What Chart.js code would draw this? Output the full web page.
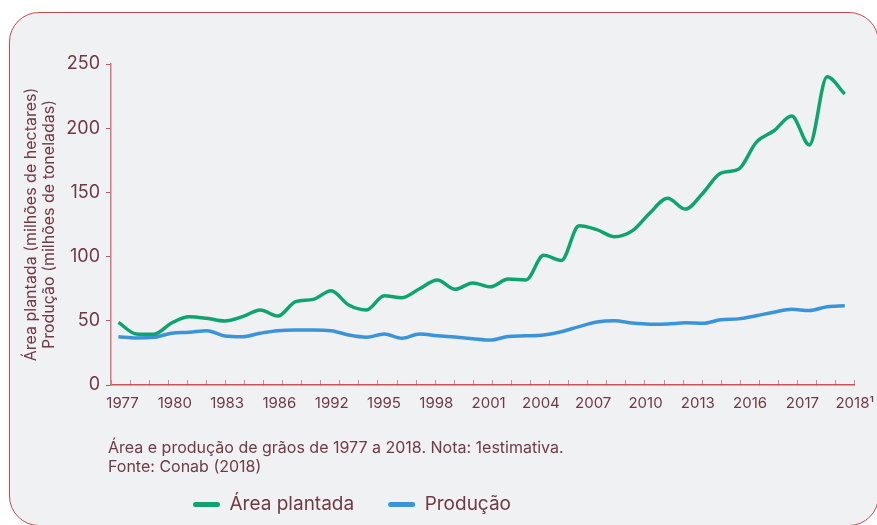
<!DOCTYPE html>
<html lang="pt">
<head>
<meta charset="utf-8">
<title>Área e produção de grãos</title>
<script src="https://cdn.jsdelivr.net/npm/chart.js@4.4.1/dist/chart.umd.min.js"></script>
<style>
    html, body { margin: 0; padding: 0; background: #ffffff; }
    body { width: 877px; height: 525px; position: relative; overflow: hidden; font-family: Inter, "Noto Sans", sans-serif; }
    .card {
        position: absolute; left: 9px; top: 12px; width: 870px; height: 514px;
        box-sizing: border-box; border: 1.5px solid #c24a52; border-radius: 30px;
        background: #f0f1f3;
    }
    #chart { position: absolute; left: 0; top: 0; }
    .caption {
        position: absolute; left: 108px; top: 438px;
        font-size: 16px; line-height: 19px; color: #6f3a46;
    }
</style>
</head>
<body>
<div class="card"></div>
<canvas id="chart" width="877" height="524"></canvas>
<div class="caption">Área e produção de grãos de 1977 a 2018. Nota: 1estimativa.<br>Fonte: Conab (2018)</div>

<script>
// Valores (milhões de ha / milhões de t)
const years = [1977, 1978, 1979, 1980, 1981, 1982, 1983, 1984, 1985, 1986, 1987, 1988, 1989, 1990,
    1991, 1992, 1993, 1994, 1995, 1996, 1997, 1998, 1999, 2000, 2001, 2002, 2003, 2004,
    2005, 2006, 2007, 2008, 2009, 2010, 2011, 2012, 2013, 2014, 2015, 2016, 2017, 2018];

const areaPlantada = [48.8, 39.8, 39.5, 48.3, 53.2, 51.9, 49.8, 53.2, 58.4, 53.7, 64.9, 66.7, 73.4, 62.3,
    58.5, 69.5, 68, 75, 81.8, 74.5, 79.5, 76.5, 82.5, 81.8, 101, 97, 124, 121,
    115.5, 120, 134, 145.4, 137, 149.6, 165, 168, 189, 198, 209.5, 187, 240, 226.6];

const producao = [37.6, 36.6, 37.1, 40.3, 41, 42.3, 38.2, 37.6, 40.3, 42.3, 42.8, 42.8, 42.3, 38.9,
    37.2, 39.7, 36.4, 39.7, 38.3, 37.3, 36.1, 35, 37.8, 38.3, 39, 41.5, 45.5, 49,
    50, 48.2, 47.3, 47.5, 48.4, 48, 50.8, 51.5, 54, 56.7, 59, 58, 61, 61.8];

const xTickLabels = ['1977', '1980', '1983', '1986', '1992', '1995', '1998', '2001', '2004',
    '2007', '2010', '2013', '2016', '2017', '2018¹'];

const yTickValues = [0, 50, 100, 150, 200, 250];

const TEXT = '#6f3a46';
const AXIS = '#c9535a';
const GREEN = '#0fa36f';
const BLUE = '#3b94d8';

const X_MIN = 1976.58, X_MAX = 2018.56;

// move the legend row to where it sits in the original
const legendShift = {
    id: 'legendShift',
    afterLayout(chart) {
        chart.legend.left += 159;
        chart.legend.right += 159;
    }
};

new Chart(document.getElementById('chart'), {
    type: 'line',
    data: {
        datasets: [
            {
                label: 'Área plantada',
                data: areaPlantada.map((v, i) => ({ x: years[i], y: v })),
                borderColor: GREEN,
                backgroundColor: GREEN,
                borderWidth: 3.5,
                pointRadius: 0,
                cubicInterpolationMode: 'monotone'
            },
            {
                label: 'Produção',
                data: producao.map((v, i) => ({ x: years[i], y: v })),
                borderColor: BLUE,
                backgroundColor: BLUE,
                borderWidth: 3.5,
                pointRadius: 0,
                cubicInterpolationMode: 'monotone'
            }
        ]
    },
    options: {
        responsive: false,
        devicePixelRatio: 1,
        animation: false,
        layout: { padding: { left: 0, right: 21, top: 64, bottom: 0 } },
        plugins: {
            tooltip: { enabled: false },
            legend: {
                position: 'bottom',
                align: 'start',
                labels: {
                    color: TEXT,
                    font: { family: 'Inter', size: 19 },
                    boxWidth: 27,
                    boxHeight: 5,
                    padding: 34,
                    useBorderRadius: true,
                    borderRadius: 2.5,
                    generateLabels: chart => Chart.defaults.plugins.legend.labels.generateLabels(chart)
                        .map(l => ({ ...l, lineWidth: 0 }))
                }
            }
        },
        scales: {
            x: {
                type: 'linear',
                position: 'bottom',
                min: X_MIN,
                max: X_MAX,
                afterBuildTicks: scale => {
                    scale.ticks = Array.from({ length: 40 }, (_, k) => ({ value: X_MIN + k * (X_MAX - X_MIN) / 39 }));
                },
                afterFit: scale => { scale.height = 6; },
                ticks: { display: false },
                grid: { drawOnChartArea: false, tickLength: -5, color: '#d98a8e', lineWidth: 1 },
                border: { color: AXIS, width: 1.5 }
            },
            xl: {
                type: 'linear',
                position: 'bottom',
                min: -0.22,
                max: 14,
                afterBuildTicks: scale => {
                    scale.ticks = xTickLabels.map((_, j) => ({ value: j }));
                },
                afterFit: scale => { scale.height = 70; },
                ticks: {
                    autoSkip: false,
                    maxRotation: 0,
                    padding: 3,
                    color: TEXT,
                    font: { family: 'Inter', size: 15 },
                    callback: v => xTickLabels[v]
                },
                grid: { display: false, drawTicks: false },
                border: { display: false }
            },
            y: {
                min: 0,
                max: 250,
                afterBuildTicks: scale => {
                    scale.ticks = yTickValues.map(v => ({ value: v }));
                },
                afterFit: scale => { scale.width = 111; },
                ticks: {
                    padding: 6,
                    color: TEXT,
                    font: { family: 'Inter', size: 18 }
                },
                grid: { drawOnChartArea: false, tickLength: 5, color: AXIS, lineWidth: 1 },
                border: { color: '#d27a80', width: 1.5 },
                title: {
                    display: true,
                    text: ['Área plantada (milhões de hectares)', 'Produção (milhões de toneladas)'],
                    color: TEXT,
                    font: { family: 'Inter', size: 16, lineHeight: 1.15 },
                    padding: { top: 22, bottom: 0 }
                }
            }
        }
    },
    plugins: [legendShift]
});
</script>
</body>
</html>
